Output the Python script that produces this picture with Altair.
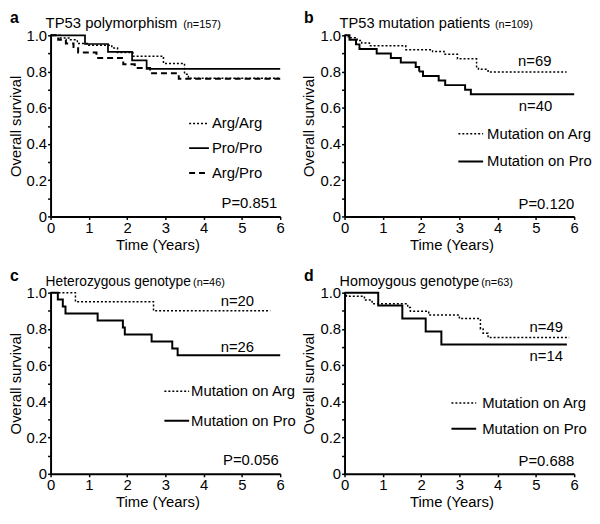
import altair as alt
import pandas as pd

FONT = "Liberation Sans"

# ---------------- data ----------------
# Panel a: TP53 polymorphism
a_names = ["Arg/Arg", "Pro/Pro", "Arg/Pro"]
a_argarg_t = [0, 0.25, 0.5, 0.7, 1.0, 1.6, 1.75, 2.15, 2.95, 3.5, 3.6, 6.0]
a_argarg_s = [1.0, 0.985, 0.975, 0.955, 0.945, 0.93, 0.905, 0.885, 0.845, 0.785, 0.763, 0.763]
a_propro_t = [0, 0.9, 1.5, 2.13, 2.51, 6.0]
a_propro_s = [1.0, 0.952, 0.908, 0.862, 0.815, 0.815]
a_argpro_t = [0, 0.2, 0.4, 0.6, 0.72, 1.2, 1.9, 2.2, 2.6, 3.35, 6.0]
a_argpro_s = [1.0, 0.975, 0.955, 0.935, 0.905, 0.875, 0.84, 0.82, 0.79, 0.76, 0.76]

# Panel b: TP53 mutation patients
mut_names = ["Mutation on Arg", "Mutation on Pro"]
b_arg_t = [0, 0.1, 0.33, 0.45, 0.65, 1.6, 2.3, 2.6, 2.95, 3.45, 3.5, 3.75, 5.8]
b_arg_s = [1.0, 0.986, 0.971, 0.957, 0.942, 0.92, 0.91, 0.895, 0.87, 0.826, 0.812, 0.797, 0.797]
b_pro_t = [0, 0.13, 0.3, 0.39, 0.84, 1.21, 1.47, 1.86, 1.95, 2.05, 2.46, 2.63, 3.15, 3.3, 6.0]
b_pro_s = [1.0, 0.975, 0.95, 0.925, 0.9, 0.875, 0.85, 0.825, 0.8, 0.775, 0.75, 0.725, 0.70, 0.675, 0.675]

# Panel c: Heterozygous genotype
c_arg_t = [0, 0.65, 2.69, 5.74]
c_arg_s = [1.0, 0.95, 0.90, 0.90]
c_pro_t = [0, 0.19, 0.32, 0.39, 1.23, 1.89, 1.94, 2.64, 3.18, 3.32, 6.0]
c_pro_s = [1.0, 0.962, 0.923, 0.885, 0.846, 0.808, 0.769, 0.731, 0.692, 0.654, 0.654]

# Panel d: Homoygous genotype
d_arg_t = [0, 0.05, 0.52, 0.72, 1.65, 1.72, 2.2, 3.0, 3.55, 3.62, 3.75, 5.87]
d_arg_s = [1.0, 0.98, 0.959, 0.939, 0.918, 0.898, 0.877, 0.857, 0.80, 0.776, 0.752, 0.752]
d_pro_t = [0, 0.88, 1.51, 2.12, 2.53, 5.81]
d_pro_s = [1.0, 0.929, 0.857, 0.786, 0.714, 0.714]

# annotations: n= labels (centered) and P values (right aligned)
a_n_text, a_n_t, a_n_s = [], [], []
a_p_text, a_p_t, a_p_s = ["P=0.851"], [5.92], [0.072]
b_n_text, b_n_t, b_n_s = ["n=69", "n=40"], [4.97, 4.99], [0.859, 0.609]
b_p_text, b_p_t, b_p_s = ["P=0.120"], [6.0], [0.068]
c_n_text, c_n_t, c_n_s = ["n=20", "n=26"], [4.88, 4.88], [0.952, 0.70]
c_p_text, c_p_t, c_p_s = ["P=0.056"], [5.96], [0.075]
d_n_text, d_n_t, d_n_s = ["n=49", "n=14"], [5.27, 5.27], [0.81, 0.648]
d_p_text, d_p_t, d_p_s = ["P=0.688"], [6.0], [0.07]

titles = ["TP53 polymorphism", "TP53 mutation patients", "Heterozygous genotype", "Homoygous genotype"]
title_ns = ["(n=157)", "(n=109)", "(n=46)", "(n=63)"]
letters = ["a", "b", "c", "d"]

X_TICKS = [0, 1, 2, 3, 4, 5, 6]
Y_TICKS = [0, 0.1, 0.2, 0.3, 0.4, 0.5, 0.6, 0.7, 0.8, 0.9, 1.0]

W, H = 232, 183
TITLE_SIZES = [15, 14.8, 13.9, 14.5]

X_AXIS = alt.Axis(values=X_TICKS, format="d", title="Time (Years)", labelFlush=False,
                  labelOverlap=False, titleFontWeight="normal", titleX=108, titlePadding=2)
Y_AXIS = alt.Axis(values=Y_TICKS, title="Overall survival", labelOverlap=False,
                  titleFontWeight="normal", labelFlush=False,
                  labelExpr="datum.value == 0 ? '0' : (round(datum.value*10) % 2 == 0 ? format(datum.value, '.1f') : '')")
X_SCALE = alt.Scale(domain=[0, 6], nice=False, zero=False)
Y_SCALE = alt.Scale(domain=[0, 1], nice=False)


def xe():
    return alt.X("t:Q", scale=X_SCALE, axis=X_AXIS)


def ye():
    return alt.Y("s:Q", scale=Y_SCALE, axis=Y_AXIS)


def curve_df(series):
    rows = []
    for name, ts, ss in series:
        for t, s in zip(ts, ss):
            rows.append({"t": t, "s": s, "group": name})
    return pd.DataFrame(rows)


def panel(idx, series, names, dashes, widths, leg_x, leg_y, sym_len, lab_off, row_pad,
          n_text, n_t, n_s, p_text, p_t, p_s, n_dx):
    df = curve_df(series)
    leg = alt.Legend(orient="none", legendX=leg_x, legendY=leg_y, title=None,
                     symbolType="stroke", symbolSize=sym_len * sym_len,
                     symbolStrokeColor="black", labelFontSize=15, labelFont=FONT,
                     labelColor="black", labelOffset=lab_off, rowPadding=row_pad, padding=0)
    lines = alt.Chart(df).mark_line(interpolate="step-after", color="black").encode(
        x=xe(), y=ye(),
        strokeDash=alt.StrokeDash("group:N", scale=alt.Scale(domain=names, range=dashes), legend=leg),
        strokeWidth=alt.StrokeWidth("group:N", scale=alt.Scale(domain=names, range=widths), legend=leg),
    )
    layers = [lines]
    if n_text:
        ndf = pd.DataFrame({"t": n_t, "s": n_s, "label": n_text})
        layers.append(alt.Chart(ndf).mark_text(align="center", baseline="middle", fontSize=15).encode(
            x=xe(), y=ye(), text="label:N"))
    pdf = pd.DataFrame({"t": p_t, "s": p_s, "label": p_text})
    layers.append(alt.Chart(pdf).mark_text(align="right", baseline="middle", fontSize=15).encode(
        x=xe(), y=ye(), text="label:N"))
    one = pd.DataFrame({"k": [0]})
    layers.append(alt.Chart(one).mark_text(text=letters[idx], align="left", baseline="alphabetic",
                                           fontSize=16, fontWeight="bold").encode(
        x=alt.value(-41), y=alt.value(-12)))
    layers.append(alt.Chart(one).mark_text(text=titles[idx], align="left", baseline="alphabetic",
                                           fontSize=TITLE_SIZES[idx]).encode(x=alt.value(-5), y=alt.value(-7)))
    layers.append(alt.Chart(one).mark_text(text=title_ns[idx], align="left", baseline="alphabetic",
                                           fontSize=11).encode(x=alt.value(n_dx), y=alt.value(-7)))
    return alt.layer(*layers).properties(width=W, height=H)


DOT, SOLID, DASH = [2, 2], [1, 0], [6, 4]

pa = panel(0, [("Arg/Arg", a_argarg_t, a_argarg_s), ("Pro/Pro", a_propro_t, a_propro_s),
               ("Arg/Pro", a_argpro_t, a_argpro_s)],
           a_names, [DOT, SOLID, DASH], [1.5, 2, 1.8], 139, 78, 20, 2, 6,
           a_n_text, a_n_t, a_n_s, a_p_text, a_p_t, a_p_s, 134)
pb = panel(1, [("Mutation on Arg", b_arg_t, b_arg_s), ("Mutation on Pro", b_pro_t, b_pro_s)],
           mut_names, [DOT, SOLID], [1.5, 2], 114, 86, 25, 3, 6,
           b_n_text, b_n_t, b_n_s, b_p_text, b_p_t, b_p_s, 152)
pc = panel(2, [("Mutation on Arg", c_arg_t, c_arg_s), ("Mutation on Pro", c_pro_t, c_pro_s)],
           mut_names, [DOT, SOLID], [1.5, 2], 114, 86, 25, 1, 8,
           c_n_text, c_n_t, c_n_s, c_p_text, c_p_t, c_p_s, 144)
pd_ = panel(3, [("Mutation on Arg", d_arg_t, d_arg_s), ("Mutation on Pro", d_pro_t, d_pro_s)],
            mut_names, [DOT, SOLID], [1.5, 2], 107, 98, 25, 5, 4,
            d_n_text, d_n_t, d_n_s, d_p_text, d_p_t, d_p_s, 138)

chart = alt.concat(pa, pb, pc, pd_, columns=2, spacing={"row": 77, "column": 65}, bounds="flush").resolve_scale(
    x="independent", y="independent", strokeDash="independent", strokeWidth="independent"
).resolve_legend(strokeDash="independent", strokeWidth="independent").properties(
    padding={"left": 0, "top": 0, "right": 0, "bottom": 0}
).configure_view(stroke=None).configure_axis(
    domainColor="black", domainWidth=2, tickColor="black", tickWidth=1.5, tickSize=3,
    labelFont=FONT, labelFontSize=15, labelColor="black", labelPadding=1,
    titleFont=FONT, titleFontSize=15, titleFontWeight="normal", titleColor="black",
    titlePadding=3, grid=False, labelOverlap=False, labelSeparation=0
).configure_text(font=FONT, color="black")

chart.save("out.html", embed_options={"renderer": "svg", "actions": False})
